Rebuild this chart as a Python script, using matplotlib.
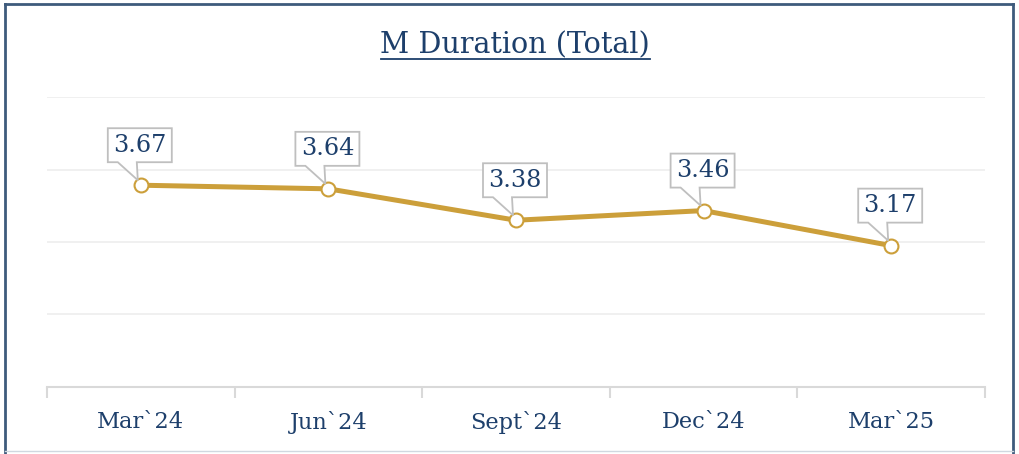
import matplotlib.pyplot as plt
import matplotlib.transforms as mtransforms
from matplotlib.patches import Polygon
from matplotlib.lines import Line2D

quarters = ['Mar`24', 'Jun`24', 'Sept`24', 'Dec`24', 'Mar`25']
duration = [3.67, 3.64, 3.38, 3.46, 3.17]
grid_ticks = [2.0, 2.6, 3.2, 3.8, 4.4]

navy = '#1d3f6b'
gold = '#cc9f3a'
font = 'DejaVu Serif'

fig = plt.figure(figsize=(10.2, 4.54), dpi=100, facecolor='white')
ax = fig.add_axes([47/1020, 67/454, 938/1020, 290/454])
ax.set_xlim(0, len(quarters))
ax.set_ylim(grid_ticks[0], grid_ticks[-1])

ax.set_yticks(grid_ticks)
ax.yaxis.grid(True, color='#efefef', lw=1.3)
ax.set_axisbelow(True)
ax.tick_params(axis='y', left=False, labelleft=False)
ax.set_xticks(range(len(quarters) + 1))
ax.set_xticklabels([])
ax.set_xticks([i + 0.5 for i in range(len(quarters))], minor=True)
ax.set_xticklabels(quarters, minor=True, fontsize=16.2, color=navy, family=font)
ax.tick_params(axis='x', which='major', direction='out', length=8, width=1.5, color='#d9d9d9')
ax.tick_params(axis='x', which='minor', length=0, pad=17)
for s in ['top', 'right', 'left']:
    ax.spines[s].set_visible(False)
ax.spines['bottom'].set_color('#d9d9d9')
ax.spines['bottom'].set_linewidth(1.5)

xs = [i + 0.5 for i in range(len(quarters))]
ax.plot(xs, duration, color=gold, lw=3.6, zorder=3, solid_capstyle='round')
ax.plot(xs, duration, 'o', ms=10, mfc='white', mec=gold, mew=1.5, zorder=4)

# callout boxes, vertices in pixels relative to each point
box = [(-33, 23), (-23, 23), (-3, 5), (-4, 23), (31, 23), (31, 57), (-33, 57)]
for x, v in zip(xs, duration):
    tr = mtransforms.Affine2D().scale(1/100) + fig.dpi_scale_trans + \
        mtransforms.ScaledTranslation(x, v, ax.transData)
    ax.add_patch(Polygon(box, closed=True, transform=tr, facecolor='white',
                         edgecolor='#bfbfbf', lw=1.3, zorder=5, clip_on=False))
    ax.text(-1, 40, f'{v:.2f}', transform=tr, ha='center', va='center',
            fontsize=17.3, color=navy, family=font, zorder=6)

fig.text(0.505, 1 - 45/454, 'M Duration (Total)', ha='center', va='center',
         fontsize=20.6, color=navy, family=font)
fig.add_artist(Line2D([381/1020, 650/1020], [1 - 59/454, 1 - 59/454],
                      color=navy, lw=1.3))

# frame
fc = '#3e5b7c'
fig.add_artist(Line2D([5.5/1020, 5.5/1020], [0, 1 - 3.5/454], color=fc, lw=2))
fig.add_artist(Line2D([1013.5/1020, 1013.5/1020], [0, 1 - 3.5/454], color=fc, lw=2))
fig.add_artist(Line2D([5.5/1020, 1013.5/1020], [1 - 3.5/454, 1 - 3.5/454], color=fc, lw=2))
fig.add_artist(Line2D([5.5/1020, 1013.5/1020], [3/454, 3/454], color='#d0d8e0', lw=1))

fig.savefig('out.png', dpi=100, facecolor='white')
